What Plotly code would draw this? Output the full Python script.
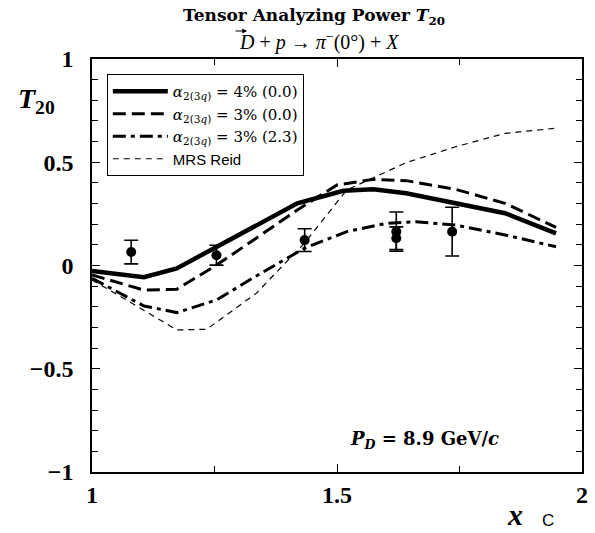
import plotly.graph_objects as go

# ---------------- data ----------------
x_solid = [1.0, 1.106, 1.173, 1.254, 1.335, 1.419, 1.513, 1.574, 1.641, 1.742, 1.843, 1.947]
y_solid = [-0.027, -0.057, -0.014, 0.091, 0.196, 0.301, 0.362, 0.369, 0.350, 0.301, 0.253, 0.156]

x_dash = [1.0, 1.106, 1.173, 1.254, 1.335, 1.419, 1.50, 1.574, 1.641, 1.742, 1.843, 1.947]
y_dash = [-0.046, -0.119, -0.115, 0.002, 0.132, 0.269, 0.390, 0.417, 0.411, 0.369, 0.301, 0.185]

x_dashdot = [1.0, 1.106, 1.173, 1.254, 1.335, 1.433, 1.52, 1.601, 1.661, 1.742, 1.843, 1.947]
y_dashdot = [-0.062, -0.196, -0.228, -0.167, -0.051, 0.083, 0.164, 0.204, 0.212, 0.196, 0.148, 0.091]

x_reid = [1.0, 1.059, 1.173, 1.234, 1.335, 1.433, 1.52, 1.641, 1.742, 1.843, 1.944]
y_reid = [-0.070, -0.151, -0.312, -0.309, -0.135, 0.107, 0.366, 0.498, 0.575, 0.640, 0.664]

x_data = [1.080, 1.254, 1.434, 1.621, 1.621, 1.735]
y_data = [0.065, 0.050, 0.123, 0.164, 0.132, 0.164]
e_data = [0.057, 0.048, 0.055, 0.095, 0.055, 0.118]

leg_names = [
    "<i>α</i><sub>2(3<i>q</i>)</sub> = 4% (0.0)",
    "<i>α</i><sub>2(3<i>q</i>)</sub> = 3% (0.0)",
    "<i>α</i><sub>2(3<i>q</i>)</sub> = 3% (2.3)",
    "<span style='font-family:Liberation Sans, Arial'>MRS Reid</span>",
]

y_tickvals = [-1, -0.5, 0, 0.5, 1]
y_ticktext = ["<b>−1</b>", "<b>−0.5</b>", "<b>0</b>", "<b>0.5</b>", "<b>1</b>"]
x_tickvals = [1.0, 1.5, 2.0]
x_ticktext = ["<b>1</b>", "<b>1.5</b>", "<b>2</b>"]

# ---------------- figure ----------------
fig = go.Figure()
fig.add_trace(go.Scatter(x=x_solid, y=y_solid, mode="lines", name=leg_names[0],
                         line=dict(color="black", width=4.5)))
fig.add_trace(go.Scatter(x=x_dash, y=y_dash, mode="lines", name=leg_names[1],
                         line=dict(color="black", width=3, dash="13px,6px")))
fig.add_trace(go.Scatter(x=x_dashdot, y=y_dashdot, mode="lines", name=leg_names[2],
                         line=dict(color="black", width=3, dash="13px,5px,4px,5px")))
fig.add_trace(go.Scatter(x=x_reid, y=y_reid, mode="lines", name=leg_names[3],
                         line=dict(color="black", width=1.2, dash="6px,5px")))
fig.add_trace(go.Scatter(x=x_data, y=y_data, mode="markers", showlegend=False,
                         marker=dict(color="black", size=10),
                         error_y=dict(type="data", array=e_data, visible=True,
                                      color="black", thickness=1.6, width=7)))

W, H = 595, 533
L, R, T, B = 92, 7, 59, 61
pw, ph = W - L - R, H - T - B


def px(x):
    return (x - L) / pw


def py(y):
    return (H - B - y) / ph


serif = "Liberation Serif, Times New Roman, serif"
bserif = "DejaVu Serif, serif"
annos = [
    dict(x=px(317), y=py(16), text="<b>Tensor Analyzing Power <i>T</i><sub>20</sub></b>",
         font=dict(size=17, family=bserif)),
    dict(x=px(322), y=py(41), text="<i>D</i> + <i>p</i> → <i>π</i><sup>−</sup>(0°) + <i>X</i>",
         font=dict(size=20, family=serif)),
    dict(x=px(36), y=py(100), text="<b><i>T</i><sub>20</sub></b>",
         font=dict(size=28, family=serif)),
    dict(x=px(520), y=py(514), text="<b><i>x</i></b>",
         font=dict(size=30, family=serif)),
    dict(x=px(554), y=py(520), text="C",
         font=dict(size=17, family="Liberation Sans, Arial")),
    dict(x=px(429), y=py(440), text="<b><i>P<sub>D</sub></i> = 8.9 GeV/<i>c</i></b>",
         font=dict(size=18, family=bserif)),
]
for a in annos:
    a.update(xref="paper", yref="paper", showarrow=False, xanchor="center", yanchor="middle")

# vector arrow over D (drawn arrow, no text)
annos.append(dict(xref="paper", yref="paper", x=px(249), y=py(31), text="",
                  showarrow=True, arrowhead=2, arrowsize=0.8, arrowwidth=1.2,
                  arrowcolor="black", ax=-13, ay=0, axref="pixel", ayref="pixel"))

axis_common = dict(ticks="inside", ticklen=8, tickcolor="black", tickwidth=1,
                   showline=True, linecolor="black", linewidth=1.5, mirror="ticks",
                   showgrid=False, zeroline=False)

fig.update_layout(
    width=W, height=H,
    margin=dict(l=L, r=R, t=T, b=B),
    plot_bgcolor="white", paper_bgcolor="white",
    font=dict(family=serif, color="black"),
    showlegend=True,
    legend=dict(x=px(107), y=py(74), xanchor="left", yanchor="top",
                bordercolor="black", borderwidth=1, bgcolor="white",
                font=dict(size=15, family="DejaVu Serif, serif"), tracegroupgap=0,
                itemwidth=55),
    annotations=annos,
    xaxis=dict(range=[1, 2], tickvals=x_tickvals, ticktext=x_ticktext,
               minor=dict(dtick=0.25, ticklen=6, tickcolor="black", ticks="inside", showgrid=False),
               tickfont=dict(size=24, family=serif), ticklabelstandoff=0, **axis_common),
    yaxis=dict(range=[-1, 1], tickvals=y_tickvals, ticktext=y_ticktext,
               minor=dict(dtick=0.1, ticklen=6, tickcolor="black", ticks="inside", showgrid=False),
               tickfont=dict(size=24, family=serif), ticklabelstandoff=12, **axis_common),
)

fig.write_html("out.html")
